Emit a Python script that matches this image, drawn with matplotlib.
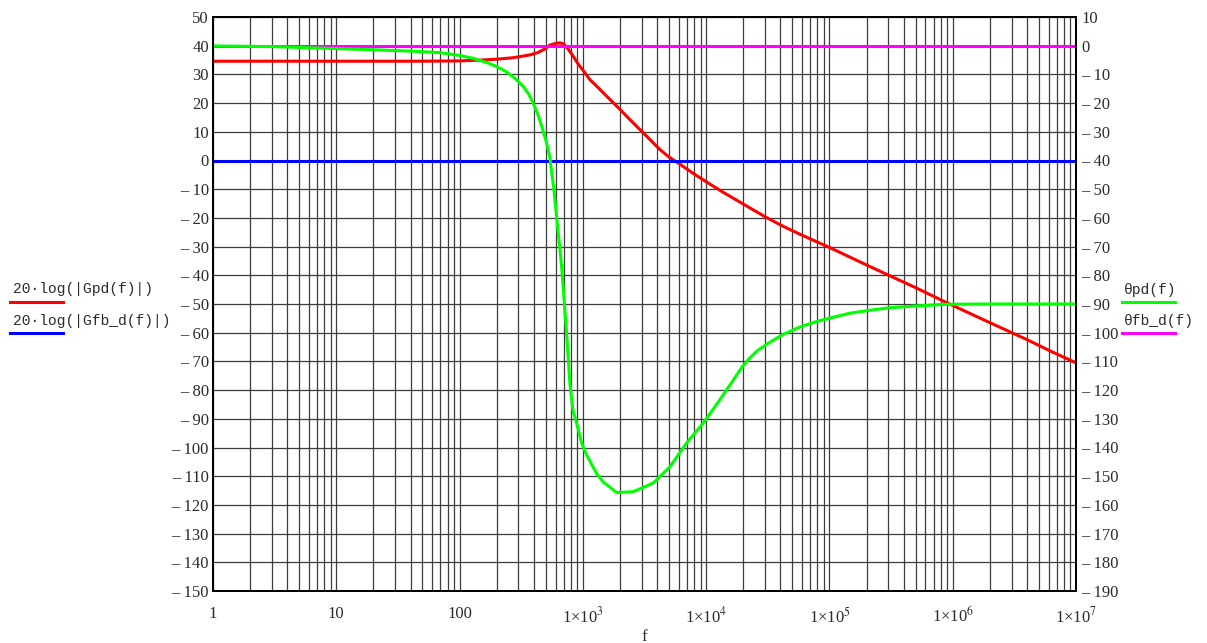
#!/usr/bin/env python3
# -*- coding: utf-8 -*-
"""Bode plot, Mathcad style: magnitude (left axis) and phase (right axis)."""

import matplotlib
matplotlib.use("Agg")
import matplotlib.pyplot as plt
from matplotlib.lines import Line2D
from matplotlib.ticker import FixedLocator, FixedFormatter, LogLocator, NullFormatter

plt.rcParams["font.family"] = ["Liberation Serif", "DejaVu Serif"]
plt.rcParams["mathtext.fontset"] = "stix"

# ---------------------------------------------------------------------
# data
f_gpd = [1, 10, 50, 100, 150, 200, 270, 330, 372, 430, 480, 540, 600, 650,
         700, 760, 830, 920, 1000, 1140, 1300, 1560, 2000, 2400, 2900, 3500,
         4220, 5000, 5940, 7000, 7860, 10090, 13770, 18800, 25000, 31000,
         42000, 57700, 1e5, 2e5, 3.1e5, 5e5, 8.9e5, 2e6, 4e6, 6.2e6, 1e7]
gpd_db = [34.6, 34.6, 34.6, 34.7, 35.0, 35.3, 35.8, 36.4, 36.8, 37.6, 38.6,
          40.2, 40.8, 41.0, 40.6, 38.8, 36.5, 33.5, 31.5, 28.2, 25.8, 22.4,
          17.8, 14.3, 10.8, 7.3, 3.8, 1.2, -0.9, -3.0, -4.5, -7.5, -11.1,
          -14.5, -17.6, -19.9, -22.9, -25.7, -30.3, -36.4, -40.2, -44.3,
          -49.5, -56.5, -62.4, -66.4, -70.5]

f_theta = [1, 3, 10, 20, 40, 69, 100, 129, 170, 200, 240, 280, 330, 365,
           395, 430, 465, 490, 517, 540, 560, 580, 594, 620, 650, 673, 700,
           738, 786, 830, 890, 978, 1070, 1290, 1463, 1880, 2570, 3720, 5090,
           6950, 9470, 12900, 16600, 19500, 22600, 26000, 31000, 36000,
           42200, 57700, 78700, 110000, 146600, 220000, 309000, 500000,
           890000, 2e6, 1e7]
theta_pd = [-0.1, -0.3, -1.0, -1.4, -1.9, -2.4, -3.4, -4.4, -6.0, -7.3,
            -9.1, -11.3, -14.3, -17.0, -20.0, -23.8, -28.2, -31.5, -35.2,
            -39.0, -44.5, -49.5, -53.8, -62.0, -70.5, -77.0, -87.0, -100.0,
            -118.0, -127.0, -131.5, -138.4, -142.5, -149.0, -152.0, -155.7,
            -155.4, -152.4, -146.7, -138.4, -131.5, -123.4, -116.5, -112.0,
            -108.8, -106.3, -104.0, -102.3, -100.6, -98.0, -96.1, -94.5,
            -93.2, -92.1, -91.3, -90.7, -90.1, -90.0, -90.0]

f_flat = [1, 1e7]
gfb_db = [0, 0]
theta_fb = [0, 0]

x_ticks = [1, 10, 100, 1e3, 1e4, 1e5, 1e6, 1e7]
x_labels = ["1", "10", "100", "1×10$^{3}$", "1×10$^{4}$",
            "1×10$^{5}$", "1×10$^{6}$", "1×10$^{7}$"]
y_left = list(range(-150, 51, 10))
y_right = list(range(-190, 11, 10))

TXT = "#2b2b2b"
GRID = "#3c3c3c"


def fmt(v):
    return f"\u2013 {abs(v)}" if v < 0 else str(v)


def px(x, y):
    return x / 1207, 1 - y / 643


def main() -> None:
    fig = plt.figure(figsize=(12.07, 6.43), dpi=100)
    ax = fig.add_axes([213 / 1207, 52 / 643, 863 / 1207, 574 / 643])

    ax.set_xscale("log")
    ax.set_xlim(1, 1e7)
    ax.set_ylim(-150, 50)

    ax.xaxis.set_major_locator(FixedLocator(x_ticks))
    ax.xaxis.set_major_formatter(FixedFormatter(x_labels))
    ax.xaxis.set_minor_locator(LogLocator(base=10, subs=range(2, 10), numticks=100))
    ax.xaxis.set_minor_formatter(NullFormatter())
    ax.set_yticks(y_left)
    ax.set_yticklabels([fmt(v) for v in y_left])

    ax.grid(True, which="both", axis="x", color=GRID, lw=0.9)
    ax.grid(True, which="major", axis="y", color=GRID, lw=0.9)
    ax.tick_params(which="both", length=0, labelsize=12, colors=TXT)
    ax.tick_params(axis="x", pad=11)
    ax.tick_params(axis="y", pad=3)
    for s in ax.spines.values():
        s.set_linewidth(1.4)

    ax.set_xlabel("f", fontsize=12, color=TXT, labelpad=2)

    # magnitude curves
    ax.plot(f_gpd, gpd_db, color="#ff0000", lw=2.2)
    ax.plot(f_flat, gfb_db, color="#0000ff", lw=2.2)

    # phase curves, right axis
    ax2 = ax.twinx()
    ax2.set_ylim(-190, 10)
    ax2.set_yticks(y_right)
    ax2.set_yticklabels([fmt(v) for v in y_right])
    ax2.tick_params(length=0, labelsize=12, colors=TXT, pad=4)
    for s in ax2.spines.values():
        s.set_linewidth(1.4)
    ax2.plot(f_flat, theta_fb, color="#ff00ff", lw=2.2)
    ax2.plot(f_theta, theta_pd, color="#00ff00", lw=2.2)

    # Mathcad-like trace labels
    mono = ["Liberation Mono", "DejaVu Sans Mono"]
    labels = [
        ("20·log(|Gpd(f)|)", 13, 296, 10, 63, 302, "#ff0000"),
        ("20·log(|Gfb_d(f)|)", 13, 328, 10, 63, 333, "#0000ff"),
        ("θpd(f)", 1124, 297, 1122, 1175, 302, "#00ff00"),
        ("θfb_d(f)", 1124, 328, 1122, 1175, 333, "#ff00ff"),
    ]
    for txt, tx, ty, x0, x1, ly, col in labels:
        fig.text(*px(tx, ty), txt, family=mono, fontsize=10.5, color=TXT,
                 ha="left", va="bottom")
        (a, b), (c, _) = px(x0, ly), px(x1, ly)
        fig.add_artist(Line2D([a, c], [b, b], color=col, lw=2.2,
                              transform=fig.transFigure))

    fig.savefig("out.png", dpi=100)


if __name__ == "__main__":
    main()
